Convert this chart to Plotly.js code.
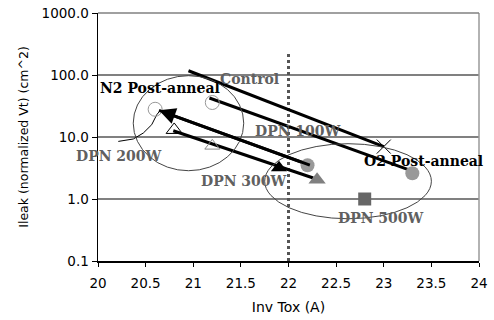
<!DOCTYPE html>
<html>
<head>
<meta charset="utf-8">
<script src="https://cdn.plot.ly/plotly-3.0.1.min.js"></script>
<style>html,body{margin:0;padding:0;background:#fff;}#chart{width:494px;height:320px;}</style>
</head>
<body>
<div id="chart"></div>
<script>
// ---- data ----
var xTickVals = [20, 20.5, 21, 21.5, 22, 22.5, 23, 23.5, 24];
var xTickText = ["20", "20.5", "21", "21.5", "22", "22.5", "23", "23.5", "24"];
var yTickVals = [0.1, 1, 10, 100, 1000];
var yTickText = ["0.1", "1.0", "10.0", "100.0", "1000.0"];

// markers
var openCircleX = [20.6, 21.2];   var openCircleY = [28, 36];
var openTriBlackX = [20.8];       var openTriBlackY = [13];
var openTriGrayX = [21.2];        var openTriGrayY = [7.2];
var crossX = [23.0];              var crossY = [7.0];
var fillTriBlackX = [21.9];       var fillTriBlackY = [3.2];
var fillCircleX = [22.2, 23.3];   var fillCircleY = [3.5, 2.6];
var fillTriGrayX = [22.3];        var fillTriGrayY = [2.05];
var squareX = [22.8];             var squareY = [1.0];

// thick trend lines
var line1X = [20.95, 23.0];  var line1Y = [117, 7.0];
var line2X = [21.17, 23.28]; var line2Y = [42.6, 2.9];
var line3X = [22.24, 20.64]; var line3Y = [3.44, 26.9];   // arrow, head at end
var line4X = [20.79, 22.26]; var line4Y = [12.6, 2.18];

// dotted divider
var dividerX = [22, 22]; var dividerY = [0.1, 218];

// curved pointer from "DPN 200W"
var curveX = [20.213, 20.371, 20.476, 20.564, 20.617, 20.645];
var curveY = [8.49, 9.29, 11.6, 15.8, 22.9, 25.9];

// ellipses [x0, x1, y0, y1]
var n2Ellipse = [20.37, 21.53, 2.86, 97.5];
var o2Ellipse = [21.75, 23.50, 0.48, 7.8];

// labels
var labelText = ["N2 Post-anneal", "Control", "DPN 100W", "O2 Post-anneal", "DPN 200W", "DPN 300W", "DPN 500W"];
var labelX = [20.651, 21.586, 22.095, 23.419, 20.22, 21.533, 22.976];
var labelY = [62.4, 87, 12.6, 4.15, 4.99, 1.94, 0.5];
var labelColor = ["#000000", "#606060", "#606060", "#000000", "#606060", "#606060", "#606060"];

// ---- chart ----
function mk(x, y, symbol, size, color, lineColor, lineW) {
  return {x: x, y: y, type: 'scatter', mode: 'markers', hoverinfo: 'skip',
    marker: {symbol: symbol, size: size, color: color, line: {color: lineColor, width: lineW}}};
}
function ln(x, y, w, color, dash) {
  return {x: x, y: y, type: 'scatter', mode: 'lines', hoverinfo: 'skip',
    line: {color: color, width: w, dash: dash || 'solid'}};
}
var traces = [
  ln(dividerX, dividerY, 3, '#555555', 'dot'),
  ln(curveX, curveY, 1, '#000000', 'solid'),
  ln(line1X, line1Y, 3, '#000000'),
  ln(line2X, line2Y, 3, '#000000'),
  ln(line3X, line3Y, 3, '#000000'),
  ln(line4X, line4Y, 3, '#000000'),
  mk(openCircleX, openCircleY, 'circle-open', 14, '#999999', '#999999', 1),
  mk(openTriBlackX, openTriBlackY, 'triangle-up-open', 14, '#000000', '#000000', 1),
  mk(openTriGrayX, openTriGrayY, 'triangle-up-open', 13, '#888888', '#888888', 1),
  mk(crossX, crossY, 'x-thin-open', 14, '#000000', '#000000', 1),
  mk(fillTriBlackX, fillTriBlackY, 'triangle-up', 14, '#000000', '#000000', 0),
  mk(fillCircleX, fillCircleY, 'circle', 14, '#999999', '#999999', 0),
  mk(fillTriGrayX, fillTriGrayY, 'triangle-up', 15, '#808080', '#808080', 0),
  mk(squareX, squareY, 'square', 13, '#666666', '#666666', 0)
];

var annotations = labelText.map(function (t, i) {
  return {x: labelX[i], y: Math.log10(labelY[i]), xref: 'x', yref: 'y', text: t, showarrow: false,
    font: {family: 'DejaVu Serif', size: 14, weight: 'bold', color: labelColor[i]}};
});
annotations.push({
  x: line3X[1], y: Math.log10(line3Y[1]), ax: line3X[0], ay: Math.log10(line3Y[0]),
  xref: 'x', yref: 'y', axref: 'x', ayref: 'y', text: '', showarrow: true,
  arrowhead: 2, arrowsize: 1.1, arrowwidth: 3, arrowcolor: '#000000', standoff: 0
});

var shapes = [
  {type: 'circle', xref: 'x', yref: 'y', x0: n2Ellipse[0], x1: n2Ellipse[1], y0: n2Ellipse[2], y1: n2Ellipse[3],
   line: {color: '#444444', width: 1}},
  {type: 'circle', xref: 'x', yref: 'y', x0: o2Ellipse[0], x1: o2Ellipse[1], y0: o2Ellipse[2], y1: o2Ellipse[3],
   line: {color: '#444444', width: 1}},
  {type: 'line', xref: 'paper', yref: 'paper', x0: 1, x1: 1, y0: 0, y1: 1, line: {color: '#9a9a9a', width: 1.5}},
  {type: 'line', xref: 'paper', yref: 'paper', x0: 0, x1: 1, y0: 1, y1: 1, line: {color: '#808080', width: 1.5}}
];

var layout = {
  width: 494, height: 320,
  margin: {l: 98, r: 15, t: 13, b: 59},
  paper_bgcolor: '#ffffff', plot_bgcolor: '#ffffff',
  showlegend: false,
  font: {family: 'DejaVu Sans', color: '#000000'},
  xaxis: {
    type: 'linear', range: [20, 24], tickvals: xTickVals, ticktext: xTickText,
    showgrid: false, zeroline: false, showline: true, linecolor: '#000000', linewidth: 2,
    ticks: 'outside', ticklen: 4, tickwidth: 1, tickcolor: '#000000', ticklabelstandoff: 5,
    tickfont: {family: 'DejaVu Sans', size: 13.5, color: '#000000'},
    title: {text: 'Inv Tox (A)', font: {family: 'DejaVu Sans', size: 14, color: '#000000'}, standoff: 12}
  },
  yaxis: {
    type: 'log', range: [-1, 3], tickvals: yTickVals, ticktext: yTickText,
    showgrid: true, gridcolor: '#808080', gridwidth: 1.5, zeroline: false,
    showline: true, linecolor: '#000000', linewidth: 1.5,
    ticks: 'outside', ticklen: 5, tickwidth: 1, tickcolor: '#000000',
    tickfont: {family: 'DejaVu Sans', size: 13.5, color: '#000000'},
    title: {text: 'Ileak (normalized Vt) (cm^2)', font: {family: 'DejaVu Sans', size: 12.5, color: '#000000'}, standoff: 10}
  },
  annotations: annotations,
  shapes: shapes
};

Plotly.newPlot('chart', traces, layout, {displayModeBar: false, staticPlot: true});
</script>
</body>
</html>
